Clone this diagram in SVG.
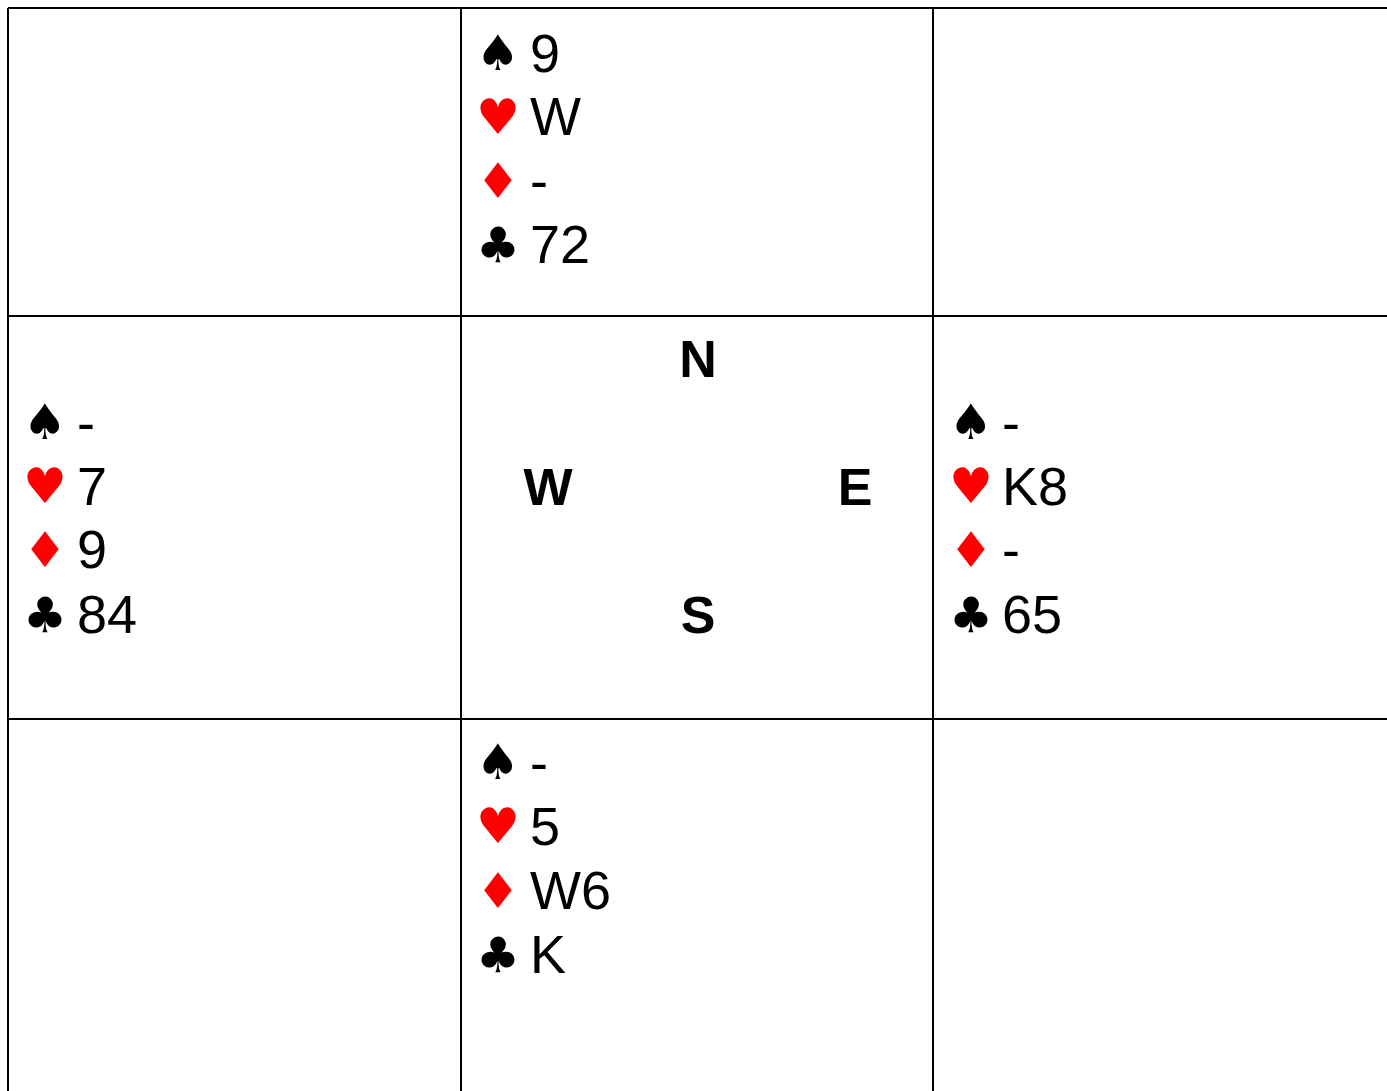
<svg xmlns="http://www.w3.org/2000/svg" width="1387" height="1091" viewBox="0 0 1387 1091">
<style>
.g{stroke:#000;stroke-width:2;fill:none}
.t{font-family:"Liberation Sans",Arial,sans-serif;font-size:54px;fill:#000}
.s{font-family:"DejaVu Sans",sans-serif;font-size:49px}
.b{fill:#000}
.r{fill:#f00}
.d{font-family:"Liberation Sans",Arial,sans-serif;font-size:52px;font-weight:bold;fill:#000;text-anchor:middle}
</style>
<rect width="1387" height="1091" fill="#fff"/>
<g id="grid" class="g">
<line x1="8" y1="8" x2="1387" y2="8"/>
<line x1="8" y1="316" x2="1387" y2="316"/>
<line x1="8" y1="719" x2="1387" y2="719"/>
<line x1="8" y1="8" x2="8" y2="1091"/>
<line x1="461" y1="8" x2="461" y2="1091"/>
<line x1="933" y1="8" x2="933" y2="1091"/>
</g>
<g id="north">
<text class="s b" x="476" y="70">♠</text><text class="t" x="530" y="72">9</text>
<text class="s r" x="476" y="134">♥</text><text class="t" x="530" y="135">W</text>
<text class="s r" x="476" y="198">♦</text><text class="t" x="530" y="199">-</text>
<text class="s b" x="476" y="262">♣</text><text class="t" x="530" y="263">72</text>
</g>
<g id="west">
<text class="s b" x="23" y="439">♠</text><text class="t" x="77" y="441">-</text>
<text class="s r" x="23" y="503">♥</text><text class="t" x="77" y="505">7</text>
<text class="s r" x="23" y="567">♦</text><text class="t" x="77" y="568">9</text>
<text class="s b" x="23" y="632">♣</text><text class="t" x="77" y="633">84</text>
</g>
<g id="compass">
<text class="d" x="698" y="377">N</text>
<text class="d" x="548" y="505">W</text>
<text class="d" x="855" y="505">E</text>
<text class="d" x="698" y="633">S</text>
</g>
<g id="east">
<text class="s b" x="949" y="439">♠</text><text class="t" x="1002" y="441">-</text>
<text class="s r" x="949" y="503">♥</text><text class="t" x="1002" y="505">K8</text>
<text class="s r" x="949" y="567">♦</text><text class="t" x="1002" y="568">-</text>
<text class="s b" x="949" y="632">♣</text><text class="t" x="1002" y="633">65</text>
</g>
<g id="south">
<text class="s b" x="476" y="779">♠</text><text class="t" x="530" y="781">-</text>
<text class="s r" x="476" y="843">♥</text><text class="t" x="530" y="845">5</text>
<text class="s r" x="476" y="908">♦</text><text class="t" x="530" y="909">W6</text>
<text class="s b" x="476" y="972">♣</text><text class="t" x="530" y="973">K</text>
</g>
</svg>
